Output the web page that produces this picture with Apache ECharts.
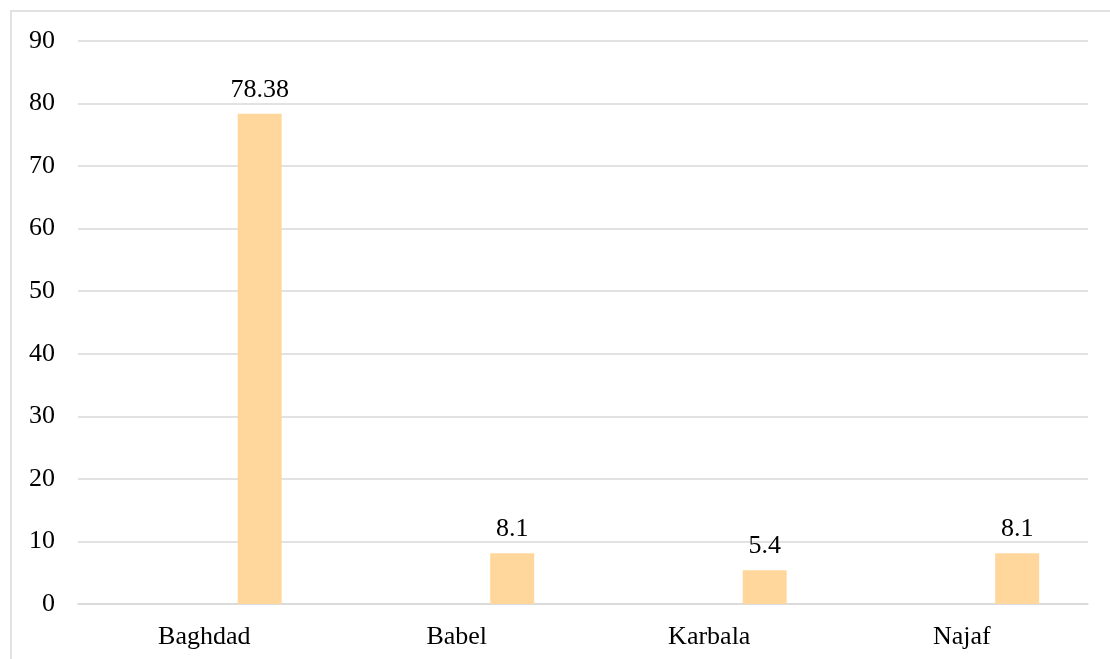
<!DOCTYPE html>
<html>
<head>
<meta charset="utf-8" />
<title>Governorates</title>
<script src="https://cdn.jsdelivr.net/npm/echarts@6/dist/echarts.min.js"></script>
<style>
  html, body { margin: 0; padding: 0; background: #fff; }
  #main { width: 1110px; height: 659px; }
</style>
</head>
<body>
<div id="main"></div>
<script type="text/javascript">
var categories = ['Baghdad', 'Babel', 'Karbala', 'Najaf'];
var emptySeries = [null, null, null, null];
var values = [78.38, 8.1, 5.4, 8.1];
var yTicks = { min: 0, max: 90, interval: 10 };

var font = 'Liberation Serif, Times New Roman, serif';
var myChart = echarts.init(document.getElementById('main'));
myChart.setOption({
  animation: false,
  backgroundColor: '#fff',
  graphic: [{
    type: 'rect',
    shape: { x: 11, y: 11, width: 1200, height: 800 },
    style: { fill: 'none', stroke: '#d9d9d9', lineWidth: 1.5 },
    silent: true
  }],
  grid: { left: 78, right: 22, top: 41, bottom: 55 },
  xAxis: {
    type: 'category',
    data: categories,
    axisLine: { show: true, lineStyle: { color: '#d9d9d9', width: 1.5 } },
    axisTick: { show: false },
    axisLabel: { color: '#000', fontFamily: font, fontSize: 26, margin: 20 }
  },
  yAxis: {
    type: 'value',
    min: yTicks.min,
    max: yTicks.max,
    interval: yTicks.interval,
    axisLine: { show: false },
    axisTick: { show: false },
    axisLabel: { color: '#000', fontFamily: font, fontSize: 26, margin: 23 },
    splitLine: { lineStyle: { color: '#d9d9d9', width: 1.5 } }
  },
  series: [{
    type: 'bar',
    data: emptySeries,
    barWidth: 44,
    barGap: '152%'
  }, {
    type: 'bar',
    data: values,
    barWidth: 44,
    barGap: '152%',
    itemStyle: { color: '#FFD79C' },
    label: {
      show: true,
      position: 'top',
      distance: 11,
      color: '#000',
      fontFamily: font,
      fontSize: 26
    }
  }]
});
</script>
</body>
</html>
